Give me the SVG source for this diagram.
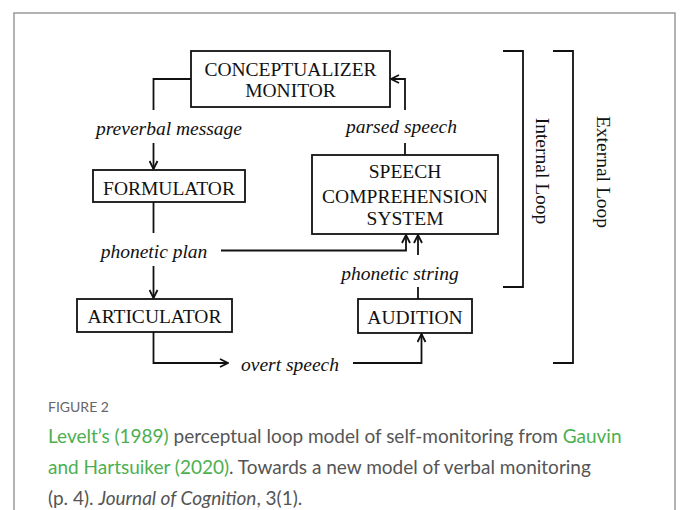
<svg xmlns="http://www.w3.org/2000/svg" width="681" height="510" viewBox="0 0 681 510">
<defs>
<style>
.box{fill:#fff;stroke:#111;stroke-width:1.8}
.ln{fill:none;stroke:#111;stroke-width:1.8}
.t{font-family:"Liberation Serif","Times New Roman",serif;font-size:19.5px;fill:#111;text-anchor:middle}
.i{font-family:"Liberation Serif","Times New Roman",serif;font-size:19.5px;fill:#111;font-style:italic;text-anchor:middle}
.cap{font-family:Lato,"Open Sans",sans-serif;font-size:19px;fill:#555}
.lk{fill:#4caf50}
</style>
<marker id="ah" viewBox="0 0 10 10" refX="9" refY="5" markerWidth="10" markerHeight="10" markerUnits="userSpaceOnUse" orient="auto">
<polyline points="1,1 9,5 1,9" fill="none" stroke="#111" stroke-width="1.8"/>
</marker>
</defs>
<rect x="0" y="0" width="681" height="510" fill="#fff"/>
<path d="M14,520 V13 H675 V520" fill="none" stroke="#999" stroke-width="1.5"/>

<g id="connectors">
<path class="ln" d="M191,79 H153.5 V110"/>
<path class="ln" d="M153.5,143 V169" marker-end="url(#ah)"/>
<path class="ln" d="M153.5,202 V233"/>
<path class="ln" d="M153.5,266 V298" marker-end="url(#ah)"/>
<path class="ln" d="M153.5,332 V363 H228" marker-end="url(#ah)"/>
<path class="ln" d="M353,363 H421.5 V334" marker-end="url(#ah)"/>
<path class="ln" d="M418,299 V287"/>
<path class="ln" d="M418,255 V235" marker-end="url(#ah)"/>
<path class="ln" d="M221,250.5 H406 V235" marker-end="url(#ah)"/>
<path class="ln" d="M405,155 V143"/>
<path class="ln" d="M405,110 V79 H391" marker-end="url(#ah)"/>
<path class="ln" d="M503,51 H523 V287 H503"/>
<path class="ln" d="M553,51 H573 V363 H553"/>
</g>

<g id="conceptualizer">
<rect class="box" x="191" y="51" width="199" height="56"/>
<text class="t" x="290.5" y="76">CONCEPTUALIZER</text>
<text class="t" x="290.5" y="96.5">MONITOR</text>
</g>
<g id="formulator">
<rect class="box" x="93" y="170" width="152" height="32"/>
<text class="t" x="169" y="195">FORMULATOR</text>
</g>
<g id="articulator">
<rect class="box" x="77" y="299" width="155" height="33"/>
<text class="t" x="154.5" y="323">ARTICULATOR</text>
</g>
<g id="audition">
<rect class="box" x="358" y="299" width="114" height="34"/>
<text class="t" x="415" y="324">AUDITION</text>
</g>
<g id="speech-comprehension">
<rect class="box" x="312" y="155" width="186" height="79"/>
<text class="t" x="405" y="178">SPEECH</text>
<text class="t" x="405" y="202.5">COMPREHENSION</text>
<text class="t" x="405" y="225">SYSTEM</text>
</g>

<g id="labels">
<text class="i" x="169" y="135">preverbal message</text>
<text class="i" x="401.5" y="133">parsed speech</text>
<text class="i" x="154" y="258">phonetic plan</text>
<text class="i" x="400" y="280">phonetic string</text>
<text class="i" x="290" y="371">overt speech</text>
<text class="t" transform="translate(536,171) rotate(90)">Internal Loop</text>
<text class="t" transform="translate(597,172) rotate(90)">External Loop</text>
</g>

<g id="caption">
<text class="cap" x="48" y="412" style="font-size:14px;fill:#666">FIGURE 2</text>
<text class="cap" x="48" y="443"><tspan class="lk">Levelt’s (1989)</tspan> perceptual loop model of self-monitoring from <tspan class="lk">Gauvin</tspan></text>
<text class="cap" x="48" y="474"><tspan class="lk">and Hartsuiker (2020)</tspan>. Towards a new model of verbal monitoring</text>
<text class="cap" x="48" y="505">(p. 4). <tspan font-style="italic">Journal of Cognition</tspan>, 3(1).</text>
</g>
</svg>
